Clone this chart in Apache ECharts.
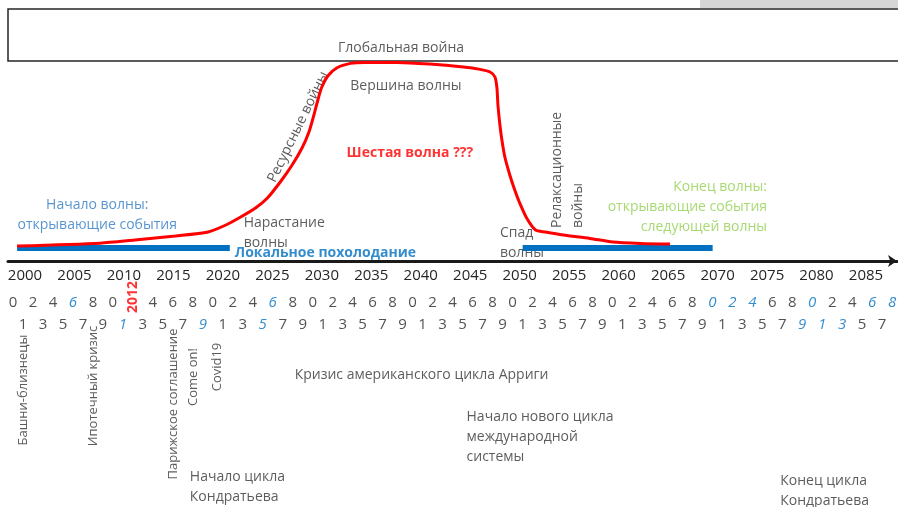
<!DOCTYPE html>
<html><head><meta charset="utf-8">
<script src="https://cdn.jsdelivr.net/npm/echarts@6/dist/echarts.min.js"></script>
<style>html,body{margin:0;padding:0;background:#fff}#c{width:898px;height:507px}</style>
</head><body><div id="c"></div>
<script>
// ---------- DATA ----------
const yearTicks = [2000,2005,2010,2015,2020,2025,2030,2035,2040,2045,2050,2055,2060,2065,2070,2075,2080,2085];

const waveYears  = [1999.2,2007.6,2011.1,2015.2,2018.5,2020.3,2021.8,2023.3,2024.5,2025.8,2027.0,2028.0,2028.7,2029.2,2029.6,2030.0,2030.6,2031.5,2032.9,2034.4,2037.6,2040.9,2044.3,2046.0,2047.0,2047.5,2047.7,2047.8,2048.0,2048.2,2048.5,2049.0,2049.5,2050.0,2050.7,2051.6,2052.6,2054.4,2057.1,2059.4,2062.2,2065.2];
const waveLevels = [8,9.4,11,13,15,18.5,22.5,27,32,40,48.5,57,65,73.5,81,87.5,93,97,99.3,99.8,99.8,99,97.5,96.3,95,92.5,87,78.5,68.5,61,52.5,43.5,36,29.5,22,16,15,13.5,11.8,10,9.3,9];

const coolingLeftYears  = [1999.2, 2020.7];
const coolingRightYears = [2050.3, 2069.5];
const coolingLevel = 7;

const phaseLineYears = [2011.1, 2030.4, 2047.7, 2059.4];
const phaseLineTops  = [23.5, 108.5, 109.5, 19.5];

const evenYears = [2000,2002,2004,2006,2008,2010,2012,2014,2016,2018,2020,2022,2024,2026,2028,2030,2032,2034,2036,2038,2040,2042,2044,2046,2048,2050,2052,2054,2056,2058,2060,2062,2064,2066,2068,2070,2072,2074,2076,2078,2080,2082,2084,2086,2088];
const oddYears  = [2001,2003,2005,2007,2009,2011,2013,2015,2017,2019,2021,2023,2025,2027,2029,2031,2033,2035,2037,2039,2041,2043,2045,2047,2049,2051,2053,2055,2057,2059,2061,2063,2065,2067,2069,2071,2073,2075,2077,2079,2081,2083,2085,2087];
const blueYears = [2006,2011,2019,2025,2026,2070,2072,2074,2079,2080,2081,2083,2086,2088];
const markedYear = 2012;

const eventNames = ['Башни-близнецы','Ипотечный кризис','Парижское соглашение','Come on!','Covid19'];
const eventYears = [2001, 2008, 2016, 2018, 2020.5];

// ---------- RENDER ----------
const FONT = "'Open Sans', sans-serif";
const TXT = '#333333';
const BLUE = '#0070C0';
const chart = echarts.init(document.getElementById('c'));

function note(xi, x, y, text, lab) {
  return {
    type: 'scatter', xAxisIndex: xi, yAxisIndex: xi, symbolSize: 0, silent: true, clip: false,
    data: [[x, y]],
    label: Object.assign({show: true, position: 'inside', formatter: text,
      fontFamily: FONT, fontSize: 14, color: TXT, lineHeight: 20}, lab)
  };
}

const series = [];
[coolingLeftYears, coolingRightYears].forEach(r => series.push({
  type: 'line', xAxisIndex: 0, yAxisIndex: 0, showSymbol: false, silent: true,
  data: r.map(x => [x, coolingLevel]),
  lineStyle: {color: BLUE, width: 6}
}));
series.push({
  type: 'line', xAxisIndex: 0, yAxisIndex: 0, data: [], silent: true,
  markLine: {symbol: 'none', silent: true, label: {show: false},
    lineStyle: {color: '#FF3B3B', width: 1, type: 'solid'},
    data: phaseLineYears.map((x, i) => [{coord: [x, 0]}, {coord: [x, phaseLineTops[i]]}])}
});
series.push({
  type: 'line', xAxisIndex: 0, yAxisIndex: 0, showSymbol: false, silent: true,
  smooth: 0.25, data: waveYears.map((x, i) => [x, waveLevels[i]]),
  lineStyle: {color: '#FF0000', width: 3}
});
series.push(note(0, 2038.0, 107, 'Глобальная война', {}));
series.push(note(0, 2038.5, 88, 'Вершина волны', {}));
series.push(note(0, 2038.9, 54.5, 'Шестая волна ???', {color: '#FF0000', fontWeight: 'bold'}));
series.push(note(0, 2027.6, 67.5, 'Ресурсные войны', {rotate: 64}));
series.push(note(0, 2022.1, 14.5, 'Нарастание\nволны', {align: 'left'}));
series.push(note(0, 2007.3, 23.5, 'Начало волны:\nоткрывающие события', {color: '#2E7BC4'}));
series.push(note(0, 2021.2, 4.5, 'Локальное похолодание', {align: 'left', color: BLUE, fontWeight: 'bold'}));
series.push(note(0, 2048.0, 9.5, 'Спад\nволны', {align: 'left'}));
series.push(note(0, 2054.8, 17, 'Релаксационные\nвойны', {align: 'left', rotate: 90, lineHeight: 21}));
series.push(note(0, 2075.0, 27.5, 'Конец волны:\nоткрывающие события\nследующей волны', {align: 'right', color: '#92D050'}));

function digitItem(y, row) {
  const blue = blueYears.indexOf(y) >= 0;
  return {value: [y, row], label: {formatter: String(y % 10),
    color: blue ? BLUE : '#262626', fontStyle: blue ? 'italic' : 'normal'}};
}
series.push({
  type: 'scatter', xAxisIndex: 1, yAxisIndex: 1, symbolSize: 0, silent: true, clip: false,
  data: evenYears.filter(y => y !== markedYear).map(y => digitItem(y, 41))
    .concat(oddYears.map(y => digitItem(y, 63))),
  label: {show: true, position: 'inside', fontFamily: FONT, fontSize: 15}
});
series.push(note(1, markedYear, 35, String(markedYear), {rotate: 90, color: '#FF0000', fontWeight: 'bold', fontSize: 14}));
const eventLevels = [128, 124, 142, 115, 105];
eventNames.forEach((n, i) => series.push(note(1, eventYears[i], eventLevels[i], n, {rotate: 90, fontSize: 13})));
series.push(note(1, 2040.9, 113, 'Кризис американского цикла Арриги', {}));
series.push(note(1, 2045.4, 175.5, 'Начало нового цикла\nмеждународной\nсистемы', {align: 'left'}));
series.push(note(1, 2017.7, 225.5, 'Начало цикла\nКондратьева', {align: 'left'}));
series.push(note(1, 2076.8, 229, 'Конец цикла\nКондратьева', {align: 'left'}));

chart.setOption({
  animation: false,
  grid: [{left: 8, right: 1, top: 0, height: 261}, {left: 8, right: 1, top: 262, height: 245}],
  xAxis: [
    {gridIndex: 0, type: 'value', min: 1998.282, max: 2088.134,
     axisLine: {show: true, onZero: false, symbol: ['none', 'arrow'], symbolSize: [9, 9],
       lineStyle: {color: '#1a1a1a', width: 3}},
     axisTick: {show: false}, splitLine: {show: false},
     axisLabel: {customValues: yearTicks, formatter: v => String(v), margin: 7, fontSize: 15, color: '#262626', fontFamily: FONT}},
    {gridIndex: 1, type: 'value', min: 1999.4995, max: 2088.488, show: false}
  ],
  yAxis: [
    {gridIndex: 0, type: 'value', min: 0.5, max: 131, show: false},
    {gridIndex: 1, type: 'value', min: 0, max: 245, inverse: true, show: false}
  ],
  graphic: [
    {type: 'rect', shape: {x: 700, y: 0, width: 198, height: 8}, style: {fill: '#D6D6D6'}, silent: true},
    {type: 'rect', shape: {x: 8, y: 9, width: 900, height: 52}, style: {fill: 'none', stroke: '#262626', lineWidth: 1.5}, silent: true}
  ],
  series: series
});
</script></body></html>
